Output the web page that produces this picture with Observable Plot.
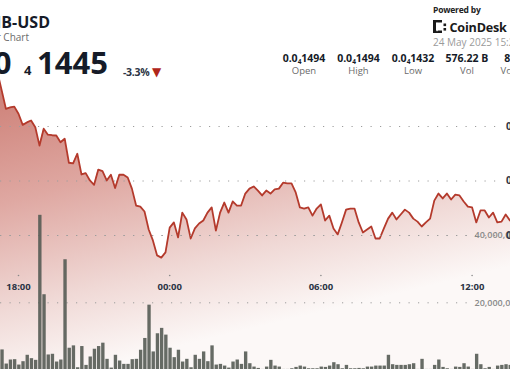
<!DOCTYPE html>
<html><head><meta charset="utf-8">
<script src="https://cdn.jsdelivr.net/npm/d3@7"></script>
<script src="https://cdn.jsdelivr.net/npm/@observablehq/plot@0.6"></script>
<style>
html,body{margin:0;padding:0;background:#fff;}
#chart{position:relative;width:510px;height:369px;overflow:hidden;font-family:"Open Sans",sans-serif;}
#chart svg{position:absolute;left:0;top:0;overflow:hidden;}
</style></head><body><div id="chart"></div>
<script>
// ---- data ----
const firstTime = Date.UTC(2025, 4, 23, 17, 10);   // first price point (UTC)
const stepMs = 10 * 60 * 1000;                       // 10-minute candles
// SHIB-USD price (USD)
const price = [
 1499.8e-8,1493.2e-8,1486.5e-8,1487.0e-8,1487.3e-8,1484.7e-8,1480.6e-8,1481.5e-8,1482.2e-8,1479.7e-8,
 1473.0e-8,1479.2e-8,1477.0e-8,1476.8e-8,1476.7e-8,1474.2e-8,1475.5e-8,1466.7e-8,1466.5e-8,1470.0e-8,
 1462.4e-8,1462.9e-8,1460.2e-8,1458.6e-8,1464.2e-8,1463.6e-8,1460.2e-8,1462.3e-8,1457.4e-8,1462.3e-8,
 1462.3e-8,1461.3e-8,1457.2e-8,1451.0e-8,1450.6e-8,1448.8e-8,1442.2e-8,1438.2e-8,1432.7e-8,1431.9e-8,
 1433.8e-8,1442.9e-8,1444.8e-8,1439.3e-8,1448.4e-8,1445.9e-8,1438.9e-8,1442.6e-8,1444.4e-8,1445.5e-8,
 1448.4e-8,1450.3e-8,1441.8e-8,1448.4e-8,1452.1e-8,1448.4e-8,1452.5e-8,1451.0e-8,1451.0e-8,1455.4e-8,
 1457.2e-8,1458.0e-8,1456.5e-8,1454.7e-8,1456.5e-8,1455.4e-8,1456.9e-8,1457.2e-8,1459.4e-8,1459.1e-8,
 1459.1e-8,1455.8e-8,1450.3e-8,1449.9e-8,1450.3e-8,1447.3e-8,1449.9e-8,1451.4e-8,1445.5e-8,1447.3e-8,
 1442.6e-8,1440.4e-8,1444.8e-8,1449.5e-8,1449.9e-8,1449.9e-8,1444.8e-8,1441.1e-8,1442.2e-8,1443.3e-8,
 1438.9e-8,1438.9e-8,1442.6e-8,1446.2e-8,1448.4e-8,1445.9e-8,1447.7e-8,1449.5e-8,1448.4e-8,1446.2e-8,
 1445.1e-8,1443.3e-8,1444.8e-8,1446.2e-8,1452.8e-8,1455.4e-8,1453.6e-8,1455.4e-8,1453.2e-8,1455.0e-8,
 1454.7e-8,1452.5e-8,1450.6e-8,1450.3e-8,1444.8e-8,1449.2e-8,1449.2e-8,1446.6e-8,1448.4e-8,1444.8e-8,
 1445.1e-8,1447.7e-8,1445.5e-8,1446.2e-8
];
// volume (millions of SHIB), one bar per candle starting one step after firstTime
const volumeM = [
 6.0,1.8,3.0,3.1,1.5,2.5,4.4,3.4,2.9,46,
 22.4,4.5,4.7,2.4,3.0,32.8,6.5,7.2,0.7,7.0,
 1.4,3.9,6.2,7.0,8.0,3.2,0.6,4.4,2.7,1.7,
 1.7,3.1,3.2,5.9,9.4,19.3,5.4,10.8,12.4,10.4,
 6.5,3.7,5.9,2.4,3.2,0.7,4.4,3.2,5.4,2.5,
 7.2,1.5,1.7,1.2,0.6,2.4,3.0,1.7,5.4,1.9,
 0.9,
 0.5,0.2,0.9,2.9,1.2,0.9,0.2,0.2,0.4,0.8,
 1.2,0.9,0.4,0.4,0.4,0.9,0.8,1.2,2.2,1.6,
 0.4,1.4,0.4,0.4,0.5,0.4,0.9,0.9,1.2,1.2,
 1.2,4.4,1.6,1.4,1.4,1.4,1.6,1.9,0.2,3.2,
 0.2,0.2,1.4,3.0,0.8,0.4,0.2,0.9,0.8,1.9,
 0.9,0.2,4.7,1.6,0.4,0.8,0.2,1.2,1.4,1.6,
 1.4
];
const priceTicks = [1440e-8, 1460e-8, 1480e-8];
const priceTickLabels = ["0.0₄144", "0.0₄146", "0.0₄148"];
const volumeTicks = [20000000, 40000000];
const timeTicks = [Date.UTC(2025,4,23,18,0), Date.UTC(2025,4,24,0,0), Date.UTC(2025,4,24,6,0), Date.UTC(2025,4,24,12,0)];
const timeTickLabels = ["18:00", "00:00", "06:00", "12:00"];
const pair = "SHIB-USD";
const subtitle = "24 Hour Chart";
const lastPrice = ["0.0", "4", "1445"];
const change = "-3.3%";
const stamp = "24 May 2025 15:25";
const statValues = ["0.0₄1494", "0.0₄1494", "0.0₄1432", "576.22 B", "8.41 M"];
const statLabels = ["Open", "High", "Low", "Vol", "Vol (USD)"];

// ---- tables ----
const priceData = price.map((p, i) => ({t: new Date(firstTime + i * stepMs), p}));
const volData = volumeM.map((v, i) => ({t: firstTime + (i + 1) * stepMs, v: v * 1e6}));

const W = 510, H = 369;
const t18 = timeTicks[0];
const xDomain = [new Date(t18 - 18 / 0.42 * 60000), new Date(t18 + 492 / 0.42 * 60000)];
const xScale = {type: "utc", domain: xDomain, range: [0, W], axis: null};
const pDomain = [1390.83e-8, 1526.24e-8];
const vDomain = [0.178e6, 109.84e6];
const base = {width: W, height: H, margin: 0, style: {background: "transparent", fontFamily: "Open Sans"}};
const dotted = {stroke: "#9c9c9c", strokeWidth: 1, strokeDasharray: "1.2,8.3"};

const chart = document.getElementById("chart");

// price layer
const pPlot = Plot.plot({...base, x: xScale, y: {domain: pDomain, range: [H, 0], axis: null},
  marks: [
    Plot.areaY(priceData, {x: "t", y1: pDomain[0], y2: "p", fill: "url(#pgrad)", clip: true}),
    Plot.ruleY(priceTicks, {...dotted, insetRight: 7}),
    Plot.lineY(priceData, {x: "t", y: "p", stroke: "#b43a2c", strokeWidth: 1.8, clip: true})
  ]});
pPlot.insertAdjacentHTML("afterbegin",
  `<defs><linearGradient id="pgrad" gradientUnits="userSpaceOnUse" x1="0" y1="80" x2="70" y2="372">
   <stop offset="0" stop-color="#cc7d74"/><stop offset="0.4" stop-color="#dfa8a2"/>
   <stop offset="0.75" stop-color="#f0d9d6"/><stop offset="1" stop-color="#fcf8f7"/></linearGradient></defs>`);
chart.appendChild(pPlot);

// volume layer
const vPlot = Plot.plot({...base, x: xScale, y: {domain: vDomain, range: [H, 0], axis: null},
  marks: [
    Plot.ruleY(volumeTicks, {...dotted, insetRight: 42}),
    Plot.rectY(volData, {x1: d => new Date(d.t - 2 * 60000), x2: d => new Date(d.t + 6 * 60000), y1: 0, y2: "v",
      fill: "#555b54", fillOpacity: 0.9, clip: true}),
    Plot.text(volumeTicks, {y: d => d, text: d => d3.format(",")(d), frameAnchor: "right", textAnchor: "start",
      dx: -36, fill: "#8a8a8a", fontSize: 9, fontWeight: 600}),
    Plot.dot(timeTicks, {x: d => new Date(d), frameAnchor: "bottom", dy: -94, r: 0.8, fill: "#8a8a8a", stroke: null}),
    Plot.text(timeTicks, {x: d => new Date(d), text: (d, i) => timeTickLabels[i], frameAnchor: "bottom", dy: -80,
      fill: "#2b3445", fontSize: 9.5, fontWeight: 700})
  ]});
chart.appendChild(vPlot);

// price label layer
const lPlot = Plot.plot({...base, x: xScale, y: {domain: pDomain, range: [H, 0], axis: null},
  marks: [
    Plot.text(priceTicks, {y: d => d, text: (d, i) => priceTickLabels[i], frameAnchor: "right", textAnchor: "start",
      dx: -4.5, fill: "#2b3445", fontSize: 10, fontWeight: 700})
  ]});
chart.appendChild(lPlot);

// header
const hdr = d3.select(chart).append("svg").attr("width", W).attr("height", H)
  .attr("font-family", "Open Sans").style("pointer-events", "none");
const ink = "#151b28";
hdr.append("text").attr("x", 50).attr("y", 28).attr("text-anchor", "end").attr("font-size", 16)
  .attr("font-weight", 700).attr("fill", ink).text(pair);
hdr.append("text").attr("x", 29).attr("y", 41).attr("text-anchor", "end").attr("font-size", 10)
  .attr("fill", "#6b6b6b").text(subtitle);
hdr.append("text").attr("x", 11.5).attr("y", 74).attr("text-anchor", "end").attr("font-size", 31)
  .attr("font-weight", 700).attr("fill", ink).text(lastPrice[0]);
hdr.append("text").attr("x", 24).attr("y", 75).attr("font-size", 13)
  .attr("font-weight", 700).attr("fill", ink).text(lastPrice[1]);
hdr.append("text").attr("x", 37).attr("y", 74).attr("font-size", 31)
  .attr("font-weight", 700).attr("fill", ink).text(lastPrice[2]);
hdr.append("text").attr("x", 123).attr("y", 76).attr("font-size", 10.5).attr("font-weight", 700)
  .attr("fill", "#2b3445").attr("letter-spacing", -0.3).text(change);
hdr.append("text").attr("x", 152).attr("y", 76).attr("font-size", 12).attr("font-family", "DejaVu Sans")
  .attr("fill", "#b0261b").text("▼");
hdr.append("text").attr("x", 433).attr("y", 13).attr("font-size", 8.5).attr("font-weight", 700)
  .attr("fill", "#222").attr("letter-spacing", -0.2).text("Powered by");
// CoinDesk mark
const logo = hdr.append("g").attr("fill", "#1a1a1a");
[[433,20,3,13],[433,20,9,2.5],[433,30.5,9,2.5],[443.5,23.5,2.6,2.6],[443.5,28,2.6,2.6]].forEach(r =>
  logo.append("rect").attr("x", r[0]).attr("y", r[1]).attr("width", r[2]).attr("height", r[3]));
[[436.5,22.8],[436.5,27.3],[436.5,30]].forEach(p =>
  logo.append("rect").attr("x", p[0]).attr("y", p[1]).attr("width", 1.2).attr("height", 1.2).attr("fill", "#fff"));
hdr.append("text").attr("x", 449.5).attr("y", 32).attr("font-size", 12.6).attr("font-weight", 700)
  .attr("fill", "#1a1a1a").attr("letter-spacing", -0.2).text("CoinDesk");
hdr.append("text").attr("x", 433).attr("y", 46).attr("font-size", 10).attr("fill", "#9a9a9a").text(stamp);
const cx = [304, 358.5, 413, 467, 521];
statValues.forEach((s, i) => {
  const t = hdr.append("text").attr("x", cx[i]).attr("y", 62).attr("text-anchor", "middle")
    .attr("font-size", 10.5).attr("font-weight", 700).attr("fill", ink);
  const parts = s.split("₄");
  if (parts.length === 2) {
    t.append("tspan").text(parts[0]);
    t.append("tspan").attr("font-size", 6.5).attr("dy", 1.5).text("4");
    t.append("tspan").attr("dy", -1.5).text(parts[1]);
  } else t.text(s);
  hdr.append("text").attr("x", cx[i]).attr("y", 74).attr("text-anchor", "middle")
    .attr("font-size", 9.5).attr("fill", "#6b6b6b").text(statLabels[i]);
});
</script></body></html>
